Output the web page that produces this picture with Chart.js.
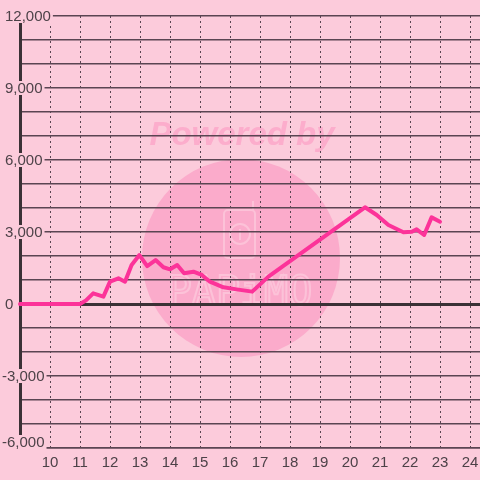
<!DOCTYPE html>
<html>
<head>
<meta charset="utf-8">
<script src="https://cdn.jsdelivr.net/npm/chart.js@4/dist/chart.umd.min.js"></script>
<style>
  html, body { margin: 0; padding: 0; background: #fccbdb; }
  canvas { display: block; }
</style>
</head>
<body>
<canvas id="chart" width="480" height="480"></canvas>
<script>
// Hours of the day and running totals
const hours = [9, 11.0, 11.2, 11.44, 11.78, 12.0, 12.28, 12.5, 12.72, 12.98, 13.24, 13.52, 13.78, 14.0, 14.24, 14.47, 14.78, 15.06, 15.33, 15.78, 16.22, 16.74, 17.28, 20.5, 20.89, 21.28, 21.78, 22.06, 22.22, 22.47, 22.72, 23.0];
const totals = [0, 0, 150, 445, 305, 930, 1070, 930, 1625, 2040, 1580, 1830, 1530, 1445, 1625, 1280, 1345, 1210, 930, 695, 610, 515, 1140, 4030, 3710, 3290, 2990, 3010, 3110, 2875, 3610, 3430];

const xTicks = [10, 11, 12, 13, 14, 15, 16, 17, 18, 19, 20, 21, 22, 23, 24];
const yTicks = [-6000, -5000, -4000, -3000, -2000, -1000, 0, 1000, 2000, 3000, 4000, 5000, 6000, 7000, 8000, 9000, 10000, 11000, 12000];
const yLabels = [-6000, -3000, 0, 3000, 6000, 9000, 12000];

const BG = "#fccbdb";
const GRID = "#5a4552";
const AXIS = "#3b3136";
const TEXT = "#4d4248";
const FONT = "'Liberation Sans', Arial, sans-serif";

// background and the faint watermark behind the grid
const backdrop = {
  id: "backdrop",
  beforeDraw(chart) {
    const ctx = chart.ctx;
    ctx.save();
    ctx.fillStyle = BG;
    ctx.fillRect(0, 0, chart.width, chart.height);

    ctx.fillStyle = "#fbabcb";
    ctx.beginPath();
    ctx.arc(241, 258, 99, 0, Math.PI * 2);
    ctx.fill();

    ctx.fillStyle = "#fcadcc";
    ctx.font = "italic bold 33px " + FONT;
    ctx.textAlign = "center";
    ctx.textBaseline = "alphabetic";
    ctx.fillText("Powered by", 242, 145);

    // phone icon
    ctx.strokeStyle = "#fcc2d8";
    ctx.lineWidth = 2;
    ctx.beginPath();
    ctx.roundRect(224, 210, 31, 48, 4);
    ctx.stroke();
    ctx.beginPath();
    ctx.moveTo(253, 210);
    ctx.lineTo(253, 201);
    ctx.stroke();
    ctx.beginPath();
    ctx.arc(240, 234, 10, 0, Math.PI * 2);
    ctx.stroke();
    ctx.fillStyle = "#fcc2d8";
    ctx.font = "bold 14px " + FONT;
    ctx.fillText("i", 240, 240);

    ctx.font = "40px 'DejaVu Sans Mono', monospace";
    ctx.lineWidth = 2;
    ctx.strokeText("PAPiMO", 240, 305);
    ctx.restore();
  }
};

// y labels with a pink box behind them, sitting over the axis
const yLabelPlugin = {
  id: "yLabels",
  afterDraw(chart) {
    const ctx = chart.ctx;
    const y = chart.scales.y;
    ctx.save();
    ctx.font = "15px " + FONT;
    ctx.textAlign = "left";
    ctx.textBaseline = "middle";
    yLabels.forEach(v => {
      const py = Math.min(y.getPixelForValue(v), 442);
      const text = v.toLocaleString("en-US");
      const w = ctx.measureText(text).width;
      const x0 = v < 0 ? 2 : 5;
      ctx.fillStyle = BG;
      ctx.fillRect(x0 - 1, py - 7, w + 3, 14);
      ctx.fillStyle = TEXT;
      ctx.fillText(text, x0, py + 1);
    });
    ctx.restore();
  }
};

new Chart(document.getElementById("chart"), {
  type: "line",
  data: {
    datasets: [{
      data: hours.map((h, i) => ({ x: h, y: totals[i] })),
      borderColor: "#fc3399",
      borderWidth: 4,
      pointRadius: 0,
      tension: 0,
      borderJoinStyle: "round",
      borderCapStyle: "round",
      clip: false
    }]
  },
  options: {
    responsive: false,
    animation: false,
    layout: { padding: { top: 16, right: 0, left: 0, bottom: 0 } },
    plugins: {
      legend: { display: false },
      tooltip: { enabled: false }
    },
    scales: {
      x: {
        type: "linear",
        min: 9,
        max: 24.333,
        afterBuildTicks: s => { s.ticks = xTicks.map(v => ({ value: v })); },
        afterFit: s => { s.height = 32; s.paddingRight = 0; s.paddingLeft = 0; },
        grid: { color: GRID, lineWidth: 1, drawTicks: false },
        border: { display: true, color: GRID, width: 1.5, dash: [2, 3] },
        ticks: {
          color: TEXT,
          font: { family: FONT, size: 15 },
          padding: 6,
          maxRotation: 0,
          autoSkip: false
        }
      },
      y: {
        min: -6000,
        max: 12000,
        afterBuildTicks: s => { s.ticks = yTicks.map(v => ({ value: v })); },
        afterFit: s => { s.width = 20; s.paddingTop = 0; s.paddingBottom = 0; },
        grid: {
          color: c => c.tick && c.tick.value === 0 ? AXIS : GRID,
          lineWidth: c => c.tick && c.tick.value === 0 ? 3 : 1.5,
          drawTicks: false
        },
        border: { display: true, color: AXIS, width: 3 },
        ticks: { display: false }
      }
    }
  },
  plugins: [backdrop, yLabelPlugin]
});
</script>
</body>
</html>
